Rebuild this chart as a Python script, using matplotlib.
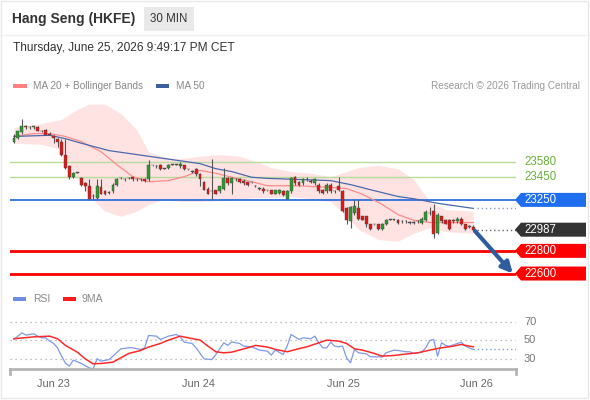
import matplotlib
matplotlib.use("Agg")
import matplotlib.pyplot as plt
from matplotlib.patches import Rectangle, Polygon
from matplotlib.transforms import blended_transform_factory

plt.rcParams['font.family'] = ['Liberation Sans', 'DejaVu Sans']

# Hang Seng futures, 30 min candles
opens = [23765, 23800, 23845, 23905, 23890, 23890, 23890, 23860, 23870, 23835,
         23810, 23785, 23765, 23650, 23545, 23450, 23490, 23440, 23395, 23370,
         23280, 23270, 23360, 23325, 23315, 23325, 23385, 23440, 23430, 23440,
         23450, 23430, 23430, 23430, 23430, 23555, 23545, 23560, 23525, 23535,
         23560, 23560, 23545, 23555, 23520, 23500, 23525, 23475, 23410, 23350,
         23325, 23335, 23325, 23350, 23440, 23395, 23430, 23430, 23420, 23405,
         23405, 23375, 23350, 23350, 23335, 23335, 23305, 23315, 23325, 23260,
         23325, 23450, 23410, 23395, 23430, 23420, 23395, 23385, 23340, 23325,
         23385, 23325, 23370, 23325, 23175, 23060, 23130, 23175, 23105, 23105,
         23035, 23035, 23035, 22995, 23035, 23075, 23075, 23075, 23060, 23060,
         23050, 23050, 23060, 23050, 23070, 23130, 23150, 22955, 23105, 23075,
         23075, 23075, 23060, 23085, 23035, 23015, 23015]
highs = [23835, 23860, 23960, 23915, 23905, 23905, 23900, 23870, 23880, 23845,
         23820, 23800, 23785, 23785, 23555, 23500, 23500, 23450, 23405, 23430,
         23300, 23430, 23430, 23335, 23325, 23395, 23440, 23450, 23440, 23450,
         23455, 23440, 23440, 23440, 23605, 23560, 23555, 23570, 23535, 23570,
         23570, 23570, 23580, 23560, 23525, 23510, 23535, 23485, 23420, 23360,
         23615, 23340, 23375, 23535, 23450, 23450, 23440, 23440, 23430, 23410,
         23410, 23385, 23360, 23360, 23340, 23340, 23340, 23350, 23335, 23335,
         23455, 23465, 23420, 23440, 23455, 23430, 23440, 23395, 23350, 23395,
         23395, 23335, 23455, 23335, 23185, 23200, 23245, 23245, 23110, 23110,
         23040, 23040, 23040, 23050, 23085, 23085, 23085, 23085, 23070, 23070,
         23060, 23060, 23070, 23095, 23165, 23185, 23210, 23130, 23110, 23085,
         23085, 23085, 23095, 23095, 23040, 23025, 23025]
lows = [23755, 23790, 23835, 23880, 23880, 23880, 23855, 23845, 23820, 23820,
        23750, 23720, 23635, 23520, 23430, 23440, 23485, 23370, 23325, 23255,
        23260, 23260, 23300, 23290, 23305, 23315, 23375, 23430, 23420, 23430,
        23420, 23420, 23420, 23410, 23420, 23545, 23535, 23510, 23520, 23525,
        23555, 23555, 23535, 23510, 23510, 23490, 23465, 23370, 23335, 23300,
        23255, 23300, 23315, 23340, 23385, 23300, 23420, 23395, 23385, 23375,
        23395, 23360, 23340, 23315, 23325, 23300, 23300, 23305, 23280, 23255,
        23315, 23385, 23375, 23385, 23420, 23395, 23385, 23315, 23305, 23315,
        23315, 23315, 23325, 23140, 23035, 23005, 23120, 23075, 23070, 23015,
        22985, 23025, 22985, 22985, 23025, 23070, 23070, 23040, 23050, 23050,
        23040, 23040, 23050, 23040, 23060, 23120, 22910, 22945, 23050, 23035,
        22985, 23050, 23050, 23025, 22985, 23005, 22980]
closes = [23800, 23855, 23905, 23890, 23890, 23900, 23860, 23855, 23825, 23825,
          23800, 23765, 23650, 23535, 23450, 23490, 23490, 23385, 23370, 23260,
          23280, 23370, 23305, 23300, 23315, 23385, 23430, 23440, 23430, 23440,
          23430, 23430, 23430, 23420, 23560, 23555, 23545, 23520, 23525, 23560,
          23560, 23560, 23570, 23520, 23520, 23500, 23475, 23430, 23340, 23305,
          23325, 23305, 23370, 23440, 23395, 23440, 23430, 23405, 23395, 23385,
          23405, 23370, 23350, 23325, 23335, 23305, 23335, 23340, 23290, 23325,
          23440, 23395, 23385, 23430, 23430, 23405, 23430, 23325, 23315, 23385,
          23325, 23325, 23335, 23150, 23075, 23190, 23200, 23085, 23075, 23035,
          22995, 23035, 22995, 23040, 23075, 23075, 23075, 23050, 23060, 23060,
          23050, 23050, 23060, 23085, 23140, 23130, 22945, 23120, 23060, 23040,
          22995, 23060, 23085, 23035, 22995, 23015, 22987]

# indicators, sampled at bar numbers
ma20_idx = [0, 5, 9, 13, 17, 22, 26, 30, 34, 39, 43, 47, 51, 55, 60, 64, 71,
            80, 84, 88, 93, 97, 101, 105, 116]
ma20 = [23810, 23835, 23835, 23810, 23765, 23675, 23560, 23455, 23410, 23420,
        23455, 23510, 23485, 23450, 23410, 23375, 23375, 23360, 23350, 23300,
        23210, 23120, 23070, 23050, 23050]
band_idx = [0, 7, 12, 15, 19, 23, 27, 31, 34, 38, 42, 47, 52, 57, 61, 65, 70,
            75, 80, 84, 87, 92, 97, 101, 105, 109, 116]
band_upper = [23890, 23925, 23960, 24030, 24095, 24095, 24010, 23870, 23675,
              23625, 23615, 23635, 23650, 23635, 23590, 23535, 23500, 23485,
              23455, 23500, 23535, 23555, 23525, 23430, 23235, 23165, 23150]
band_lower = [23750, 23740, 23695, 23500, 23280, 23150, 23105, 23150, 23210,
              23255, 23235, 23235, 23245, 23255, 23270, 23270, 23280, 23260,
              23235, 23105, 22990, 22900, 22885, 22955, 23005, 22970, 22955]
ma50_idx = [0, 9, 13, 17, 24, 34, 43, 47, 51, 55, 60, 64, 72, 80, 85, 90, 97,
            101, 107, 116]
ma50 = [23810, 23820, 23790, 23750, 23685, 23635, 23590, 23570, 23525, 23500,
        23450, 23440, 23430, 23420, 23385, 23340, 23280, 23260, 23220, 23175]

rsi_idx = [0, 2, 3, 5, 6, 7, 8, 9, 10, 11, 12, 13, 14, 15, 17, 19, 20, 21, 22,
           24, 25, 27, 29, 30, 32, 33, 34, 36, 37, 39, 41, 42, 43, 45, 46, 48,
           50, 51, 53, 54, 55, 57, 58, 60, 62, 64, 65, 66, 68, 69, 70, 72, 73,
           75, 76, 77, 78, 79, 80, 81, 82, 83, 84, 85, 86, 87, 89, 90, 92, 93,
           94, 96, 97, 99, 100, 101, 103, 104, 105, 106, 107, 108, 109, 110,
           112, 113, 114, 115, 116]
rsi = [50.7, 57.9, 55.4, 56.8, 54.3, 52.5, 52.5, 49.0, 46.4, 41.7, 33.0, 25.0,
       22.0, 28.4, 24.8, 20.0, 19.0, 29.8, 27.3, 29.0, 32.7, 40.6, 41.7, 41.7,
       39.9, 41.7, 55.0, 54.3, 50.7, 54.3, 56.1, 53.5, 47.8, 46.4, 41.7, 29.8,
       29.0, 34.5, 47.1, 44.3, 48.0, 46.4, 43.5, 42.8, 39.2, 38.1, 33.8, 39.2,
       34.5, 43.5, 56.1, 50.7, 52.5, 51.5, 54.3, 47.1, 41.7, 41.7, 47.8, 43.5,
       42.8, 43.5, 30.9, 25.5, 40.0, 36.3, 35.2, 32.0, 32.0, 31.6, 36.3, 39.2,
       38.8, 37.4, 37.4, 35.6, 37.0, 41.7, 49.6, 50.7, 32.7, 47.1, 44.3, 43.5,
       46.4, 47.8, 43.5, 41.7, 39.9]
rsi_ma_idx = [0, 5, 9, 11, 13, 16, 18, 20, 22, 25, 27, 29, 32, 34, 37, 39, 42,
              44, 47, 49, 51, 53, 55, 59, 61, 64, 66, 69, 72, 74, 77, 79, 82,
              84, 86, 88, 91, 93, 96, 98, 102, 105, 108, 111, 113, 114, 116]
rsi_ma = [51.5, 53.5, 54.3, 51.5, 44.3, 37.0, 29.8, 24.4, 24.8, 26.2, 30.9,
          35.6, 38.8, 42.5, 46.4, 50.0, 54.3, 52.5, 50.0, 43.5, 37.4, 36.3,
          37.0, 41.7, 44.3, 42.5, 40.0, 37.4, 40.8, 42.8, 47.1, 50.0, 48.9,
          46.4, 40.6, 39.2, 35.6, 32.7, 33.4, 34.5, 36.3, 39.2, 41.7, 43.5,
          45.4, 44.3, 42.8]

resistances = [23580, 23450]
pivot = 23250
last_price = 22987
supports = [22800, 22600]
target = 22600

date_ticks = [9.9, 46.5, 83.1, 116.7]
date_labels = ["Jun 23", "Jun 24", "Jun 25", "Jun 26"]
rsi_levels = [30, 50, 70]

W, H = 590, 400
fig = plt.figure(figsize=(W / 100, H / 100), dpi=100)
fig.patch.set_facecolor("white")


def fx(px):
    return px / W


def fy(py):
    return 1 - py / H


# frame and header
fig.patches.append(Rectangle((0.002, 0.004), 0.994, 0.994, transform=fig.transFigure,
                             fill=False, edgecolor="#e8e8e8", lw=1))
fig.lines.append(plt.Line2D([0, 1], [fy(35), fy(35)], transform=fig.transFigure,
                            color="#f0f0f0", lw=1))
fig.text(fx(12), fy(19), "Hang Seng (HKFE)", fontsize=10, fontweight="bold",
         color="#333333", va="center")
fig.patches.append(Rectangle((fx(144), fy(31)), fx(50), 24 / H, transform=fig.transFigure,
                             facecolor="#e9e9e9", edgecolor="none"))
fig.text(fx(169), fy(19), "30 MIN", fontsize=8.3, color="#333333", ha="center", va="center")
fig.text(fx(13), fy(48), "Thursday, June 25, 2026 9:49:17 PM CET", fontsize=8.6,
         color="#333333", va="center")

# legends
fig.patches.append(Rectangle((fx(13), fy(88)), fx(14), 4 / H, transform=fig.transFigure,
                             facecolor="#ff8080", edgecolor="none"))
fig.text(fx(33), fy(86), "MA 20 + Bollinger Bands", fontsize=7.2, color="#888888", va="center")
fig.patches.append(Rectangle((fx(156), fy(88)), fx(13), 4 / H, transform=fig.transFigure,
                             facecolor="#3d5fa0", edgecolor="none"))
fig.text(fx(176), fy(86), "MA 50", fontsize=7.2, color="#888888", va="center")
fig.text(fx(580), fy(86), "Research \u00a9 2026 Trading Central", fontsize=7.2,
         color="#999999", va="center", ha="right")
fig.patches.append(Rectangle((fx(13), fy(301)), fx(13), 4 / H, transform=fig.transFigure,
                             facecolor="#6f8ee8", edgecolor="none"))
fig.text(fx(33), fy(299), "RSI", fontsize=7.5, color="#888888", va="center")
fig.patches.append(Rectangle((fx(63), fy(301)), fx(13), 4 / H, transform=fig.transFigure,
                             facecolor="#ff1a1a", edgecolor="none"))
fig.text(fx(82), fy(299), "9MA", fontsize=7.5, color="#888888", va="center")

# price panel
ax = fig.add_axes([fx(10), fy(283.5), fx(506), 184 / H])
ax.set_xlim(-1.0, 126.8)
ax.set_ylim(22512, 24136)
ax.axis("off")

ax.fill_between(band_idx, band_lower, band_upper, color="#ffe3e3", lw=0, zorder=1)
ax.plot(ma20_idx, ma20, color="#ff8a8a", lw=0.9, zorder=2)
ax.plot(ma50_idx, ma50, color="#4a68ad", lw=0.9, zorder=2)

for lv in resistances:
    ax.axhline(lv, color="#b8dc9c", lw=1, zorder=1.5)
ax.axhline(pivot, color="#2f6fe0", lw=1.3, zorder=1.5)
for lv in supports:
    ax.axhline(lv, color="#ff0000", lw=2, zorder=1.5)

n = len(closes)
xs = list(range(n))
ax.vlines(xs, lows, highs, color="#555555", lw=0.8, zorder=3)
bottoms = [min(o, c) for o, c in zip(opens, closes)]
heights = [max(abs(c - o), 5) for o, c in zip(opens, closes)]
cols = []
for o, c in zip(opens, closes):
    if c > o:
        cols.append("#2e9a2e")
    elif c < o:
        cols.append("#e01818")
    else:
        cols.append("#555555")
ax.bar(xs, heights, bottom=bottoms, width=0.72, color=cols, edgecolor="#444444",
       lw=0.3, zorder=4)

# projections after the last bar
ax.hlines(ma50[-1], n, 126.8, color="#8a9ab8", lw=1, linestyles=(0, (1, 2)), zorder=2)
ax.hlines(last_price, n, 126.8, color="#666666", lw=1, linestyles=(0, (1, 2)), zorder=2)
ax.annotate("", xy=(126.0, target), xytext=(116.4, closes[-1] - 10),
            arrowprops=dict(arrowstyle="-|>", color="#2f5c9c", lw=3, mutation_scale=16,
                            shrinkA=0, shrinkB=0), zorder=6)

# price tags on the right
tr = blended_transform_factory(fig.transFigure, ax.transData)
half = 7 * (24136 - 22512) / 184.0


def tag(value, color):
    pts = [(fx(515), value), (fx(521), value + half), (fx(586), value + half),
           (fx(586), value - half), (fx(521), value - half)]
    ax.add_patch(Polygon(pts, closed=True, transform=tr, facecolor=color,
                         edgecolor="none", clip_on=False, zorder=7))
    ax.text(fx(524), value, str(value), transform=tr, fontsize=8.3, color="white",
            va="center", clip_on=False, zorder=8)


for lv in resistances:
    ax.text(fx(524), lv, str(lv), transform=tr, fontsize=8.3, color="#6aae3a",
            va="center", clip_on=False)
tag(pivot, "#1f6ef0")
tag(last_price, "#333333")
for lv in supports:
    tag(lv, "#ff0000")

# RSI panel
ax2 = fig.add_axes([fx(10), fy(369), fx(506), 61 / H])
ax2.set_xlim(-1.0, 126.8)
ax2.set_ylim(18.8, 84.7)
for s in ["top", "right", "left"]:
    ax2.spines[s].set_visible(False)
ax2.spines["bottom"].set_color("#b5b5b5")
ax2.spines["bottom"].set_linewidth(2)
ax2.set_yticks([])
ax2.set_xticks(date_ticks)
ax2.set_xticklabels(date_labels, fontsize=7.9, color="#666666")
ax2.tick_params(axis="x", length=0, pad=7)
ax2.plot([0, 0], [0, -0.09], transform=ax2.transAxes, color="#b5b5b5", lw=2, clip_on=False)
ax2.plot([1, 1], [0, -0.09], transform=ax2.transAxes, color="#b5b5b5", lw=2, clip_on=False)

for lv in rsi_levels:
    ax2.axhline(lv, color="#aaaaaa", lw=0.9, linestyle=(0, (1, 3)))
    ax2.text(fx(524), lv, str(lv), transform=blended_transform_factory(fig.transFigure, ax2.transData),
             fontsize=8, color="#777777", va="center", clip_on=False)

ax2.plot(rsi_idx, rsi, color="#7e99ea", lw=0.9)
ax2.plot(rsi_ma_idx, rsi_ma, color="#ff2a2a", lw=1.1)
ax2.hlines(rsi[-1], rsi_idx[-1], 126.8, color="#7e99ea", lw=1, linestyles=(0, (1, 2)))

fig.savefig("out.png", dpi=100)
